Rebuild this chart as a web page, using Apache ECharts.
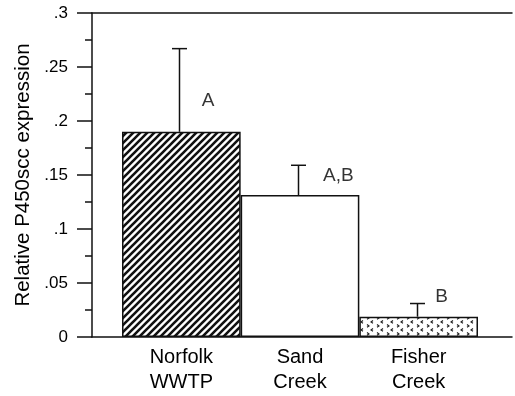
<!DOCTYPE html>
<html>
<head>
<meta charset="utf-8">
<script src="https://cdn.jsdelivr.net/npm/echarts@6/dist/echarts.min.js"></script>
<style>
html,body{margin:0;padding:0;background:#fff;}
#chart{width:515px;height:396px;}
</style>
</head>
<body>
<div id="chart"></div>
<script>
// ---- data ----
const categories = ['Norfolk\nWWTP', 'Sand\nCreek', 'Fisher\nCreek'];
const means = [0.190, 0.1315, 0.0188];
const errorTops = [0.267, 0.159, 0.031];
const groupLetters = ['A', 'A,B', 'B'];
const letterHeights = [0.219, 0.149, 0.037];
const yTicks = [0, 0.05, 0.1, 0.15, 0.2, 0.25, 0.3];

function fmtTick(v) {
  if (v === 0) return '0';
  let s = String(+v.toFixed(3));
  return s.replace(/^0\./, '.');
}

// diagonal hatch pattern
function hatchPattern() {
  const c = document.createElement('canvas');
  c.width = 7; c.height = 7;
  const g = c.getContext('2d');
  g.fillStyle = '#fff'; g.fillRect(0, 0, 7, 7);
  g.strokeStyle = '#111'; g.lineWidth = 2.6;
  g.beginPath();
  for (let k = -7; k <= 14; k += 7) {
    g.moveTo(k - 1, 8); g.lineTo(k + 8, -1);
  }
  g.stroke();
  return c;
}
// sparse speckle pattern
function speckPattern() {
  const c = document.createElement('canvas');
  c.width = 10; c.height = 8;
  const g = c.getContext('2d');
  g.fillStyle = '#fff'; g.fillRect(0, 0, 10, 8);
  g.strokeStyle = '#222'; g.lineWidth = 1.1;
  g.beginPath();
  g.moveTo(3, 0.5); g.lineTo(1, 2); g.lineTo(3, 3.2);
  g.moveTo(7, 4.5); g.lineTo(9, 6); g.lineTo(7, 7.2);
  g.stroke();
  return c;
}

const fills = [
  { image: hatchPattern(), repeat: 'repeat' },
  '#ffffff',
  { image: speckPattern(), repeat: 'repeat' }
];
const letterOffsets = [20.5, 23, 16.5];

const font = 'Liberation Sans, Arial, Helvetica, sans-serif';
const ink = '#000';
const chart = echarts.init(document.getElementById('chart'), null, { renderer: 'canvas' });

chart.setOption({
  animation: false,
  backgroundColor: '#fff',
  grid: [
    { left: 122, right: 37, top: 13, bottom: 59 },
    { left: 92, right: 3, top: 13, bottom: 59 }
  ],
  xAxis: [
    {
      type: 'category', gridIndex: 0, data: categories,
      axisLine: { show: false }, axisTick: { show: false },
      axisLabel: { color: ink, fontFamily: font, fontSize: 20, lineHeight: 25, margin: 8 }
    },
    {
      type: 'value', gridIndex: 1, min: 0, max: 1, position: 'bottom',
      axisLine: { show: true, lineStyle: { color: '#111', width: 1.5 } },
      axisTick: { show: false }, axisLabel: { show: false }, splitLine: { show: false }
    },
    {
      type: 'value', gridIndex: 1, min: 0, max: 1, position: 'top',
      axisLine: { show: true, lineStyle: { color: '#111', width: 1.5 } },
      axisTick: { show: false }, axisLabel: { show: false }, splitLine: { show: false }
    }
  ],
  yAxis: [
    {
      type: 'value', gridIndex: 0, min: 0, max: 0.3, show: false
    },
    {
      type: 'value', gridIndex: 1, min: 0, max: 0.3, interval: 0.05,
      name: 'Relative P450scc expression', nameLocation: 'middle', nameGap: 57,
      nameTextStyle: { color: ink, fontFamily: font, fontSize: 20.5 },
      axisLine: { show: true, lineStyle: { color: '#111', width: 1.5 } },
      axisTick: { show: true, inside: false, length: 15, lineStyle: { color: '#111', width: 1.5 } },
      minorTick: { show: true, splitNumber: 2, length: 7, lineStyle: { color: '#111', width: 1.5 } },
      axisLabel: { color: ink, fontFamily: font, fontSize: 17, margin: 24,
        formatter: v => fmtTick(v) },
      splitLine: { show: false }
    }
  ],
  series: [
    {
      type: 'bar', xAxisIndex: 0, yAxisIndex: 0,
      barWidth: '100%', barCategoryGap: '0%',
      data: means.map((v, i) => ({ value: v, itemStyle: { color: fills[i] } })),
      itemStyle: { borderColor: '#111', borderWidth: 1.5 },
      z: 2
    },
    {
      type: 'custom', xAxisIndex: 0, yAxisIndex: 0,
      data: means.map((v, i) => [i, v, errorTops[i]]),
      renderItem: function (params, api) {
        const base = api.coord([api.value(0), api.value(1)]);
        const top = api.coord([api.value(0), api.value(2)]);
        const x = Math.round(base[0]) - 1.5;
        const st = { stroke: '#111', lineWidth: 1.5 };
        return {
          type: 'group',
          children: [
            { type: 'line', shape: { x1: x, y1: base[1], x2: x, y2: top[1] }, style: st },
            { type: 'line', shape: { x1: x - 7.5, y1: top[1], x2: x + 7.5, y2: top[1] }, style: st }
          ]
        };
      },
      z: 3
    },
    {
      type: 'scatter', xAxisIndex: 0, yAxisIndex: 0,
      symbolSize: 0,
      data: letterHeights.map((v, i) => ({
        value: [i, v], name: groupLetters[i],
        label: { offset: [letterOffsets[i], 0] }
      })),
      label: {
        show: true, position: 'right', distance: 0,
        formatter: p => p.name,
        color: ink, fontFamily: font, fontSize: 19
      },
      z: 4
    }
  ]
});
</script>
</body>
</html>
